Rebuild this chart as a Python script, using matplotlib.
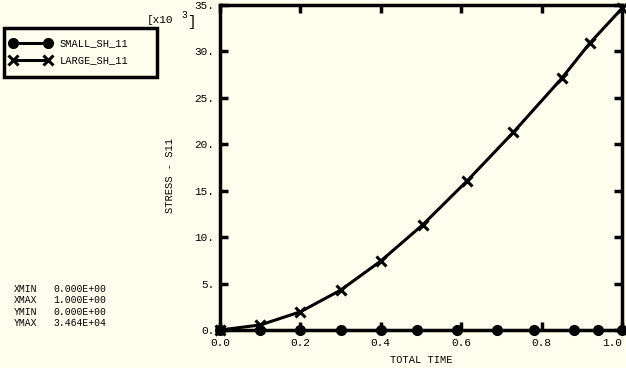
import numpy as np
import matplotlib
matplotlib.use("Agg")
import matplotlib.pyplot as plt
from matplotlib.lines import Line2D
from matplotlib.patches import Rectangle

# time points and S11 stress (x1000)
t_small = [0.0, 0.1, 0.2, 0.3, 0.4, 0.49, 0.59, 0.69, 0.78, 0.88, 0.94, 1.0]
s_small = [0.0] * 12
t_large = [0.0, 0.1, 0.2, 0.3, 0.4, 0.505, 0.615, 0.73, 0.85, 0.92, 1.0]
s_large = [0.0, 0.54, 1.96, 4.29, 7.43, 11.36, 16.07, 21.3, 27.1, 30.9, 34.64]

xticks = [0.0, 0.2, 0.4, 0.6, 0.8, 1.0]
yticks = [0, 5, 10, 15, 20, 25, 30, 35]
names = ["SMALL_SH_11", "LARGE_SH_11"]
info_keys = ["XMIN", "XMAX", "YMIN", "YMAX"]
info_vals = ["0.000E+00", "1.000E+00", "0.000E+00", "3.464E+04"]

bg = "#fffff0"
mono = "Liberation Mono"
W, H = 626, 368

fig = plt.figure(figsize=(6.26, 3.68), dpi=100, facecolor=bg)
ax = fig.add_axes([220/W, 38/H, 402/W, 325/H], facecolor=bg)

ax.plot(t_small, s_small, color="black", lw=2.2, marker="o", ms=7, clip_on=False, zorder=3)
ax.plot(t_large, s_large, color="black", lw=2.2, marker="x", ms=7, mew=2.2, clip_on=False, zorder=3)

ax.set_xlim(0, 1)
ax.set_ylim(0, 35)
ax.set_xticks(xticks)
ax.set_yticks(yticks)
ax.set_xticklabels(["%.1f" % v for v in xticks], family=mono, fontsize=8)
ax.set_yticklabels(["%d." % v for v in yticks], family=mono, fontsize=8)
ax.get_xticklabels()[-1].set_ha("right")  # last label sits flush with the edge
ax.tick_params(direction="in", length=6, width=2.5, top=True, right=True, pad=4)
ax.tick_params(axis="x", pad=6)
for sp in ax.spines.values():
    sp.set_linewidth(2.5)

fig.text(421/W, 1 - 360/H, "TOTAL TIME", family=mono, fontsize=7.5, ha="center", va="center")
fig.text(170/W, 1 - 175/H, "STRESS - S11", rotation=90, family=mono, fontsize=7.5,
         ha="center", va="center")
fig.text(147/W, 1 - 20/H, "[x10", family=mono, fontsize=8, ha="left", va="center")
fig.text(181/W, 1 - 15/H, "3", family=mono, fontsize=7, ha="left", va="center")
fig.text(187/W, 1 - 22/H, "]", family=mono, fontsize=10, ha="left", va="center")

# legend box drawn by hand
fig.add_artist(Rectangle((4/W, 1 - 77/H), 153/W, 49/H, transform=fig.transFigure,
                         facecolor=bg, edgecolor="black", lw=2.5))
styles = [dict(marker="o", ms=7), dict(marker="x", ms=7, mew=2.2)]
for i, (name, st) in enumerate(zip(names, styles)):
    y = 1 - (43 + i * 17)/H
    fig.add_artist(Line2D([13/W, 48/W], [y, y], transform=fig.transFigure,
                          color="black", lw=2.2, **st))
    fig.text(60/W, y, name, family=mono, fontsize=7.5, va="center")

for i, (k, v) in enumerate(zip(info_keys, info_vals)):
    y = 1 - (289 + i * 11 + (1 if i > 1 else 0))/H
    fig.text(14/W, y, k, family=mono, fontsize=7, va="center")
    fig.text(53/W, y, v, family=mono, fontsize=7, va="center")

fig.savefig("out.png", dpi=100, facecolor=bg)
